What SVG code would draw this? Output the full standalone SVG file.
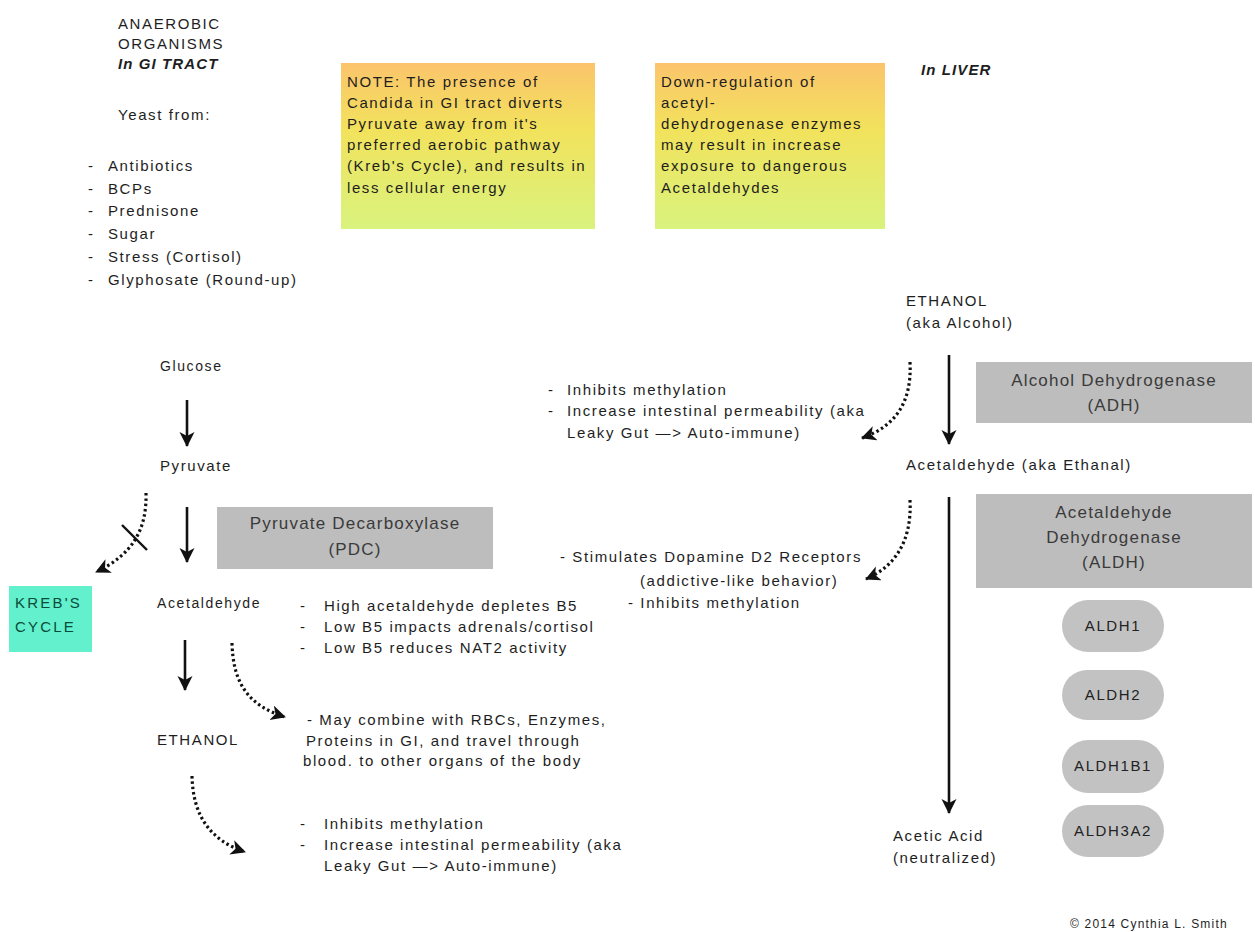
<svg xmlns="http://www.w3.org/2000/svg" width="1255" height="932" viewBox="0 0 1255 932">
<defs>
<style>
text{font-family:"Liberation Sans",Arial,Helvetica,sans-serif;font-size:15px;fill:#1e1e1e;letter-spacing:1.6px}
.sm{font-size:14px}
.bi{font-weight:bold;font-style:italic;letter-spacing:1.1px}
.enz{font-size:17px;fill:#3a3a3a;text-anchor:middle;letter-spacing:1.2px}
.pill{text-anchor:middle;font-size:15px;fill:#222}
.kreb{fill:#0b4b3a;font-size:15px;letter-spacing:2.2px}
.copy{font-size:12px;letter-spacing:1.2px}
.solid{stroke:#111;stroke-width:2.6;fill:none}
.dot{stroke:#111;stroke-width:3.2;stroke-dasharray:2.5 2.8;fill:none}
.box{fill:#bdbdbd}
.pbox{fill:#c2c2c2}
</style>
<linearGradient id="noteGrad" x1="0" y1="0" x2="0" y2="1">
<stop offset="0" stop-color="#fbc46c"/>
<stop offset="0.4" stop-color="#f2e25c"/>
<stop offset="1" stop-color="#d9f37e"/>
</linearGradient>
<marker id="ah" markerUnits="userSpaceOnUse" markerWidth="18" markerHeight="16" refX="14" refY="7.5" orient="auto">
<path d="M0,0 L15,7.5 L0,15 L4,7.5 z" fill="#111"/>
</marker>
</defs>

<g id="intro">
<text x="118" y="29">ANAEROBIC</text>
<text x="118" y="49">ORGANISMS</text>
<text x="118" y="69" class="bi">In GI TRACT</text>
<text x="118" y="120">Yeast from:</text>
<text x="88" y="171">-</text><text x="108" y="171">Antibiotics</text>
<text x="88" y="194">-</text><text x="108" y="194">BCPs</text>
<text x="88" y="216">-</text><text x="108" y="216">Prednisone</text>
<text x="88" y="239">-</text><text x="108" y="239">Sugar</text>
<text x="88" y="262">-</text><text x="108" y="262">Stress (Cortisol)</text>
<text x="88" y="285">-</text><text x="108" y="285">Glyphosate (Round-up)</text>
</g>

<g id="note1">
<rect x="341" y="63" width="254" height="166" fill="url(#noteGrad)"/>
<text x="347" y="87">NOTE: The presence of</text>
<text x="347" y="108">Candida in GI tract diverts</text>
<text x="347" y="129">Pyruvate away from it's</text>
<text x="347" y="150">preferred aerobic pathway</text>
<text x="347" y="171">(Kreb's Cycle), and results in</text>
<text x="347" y="193">less cellular energy</text>
</g>

<g id="note2">
<rect x="655" y="63" width="230" height="166" fill="url(#noteGrad)"/>
<text x="661" y="87">Down-regulation of</text>
<text x="661" y="108">acetyl-</text>
<text x="661" y="129">dehydrogenase enzymes</text>
<text x="661" y="150">may result in increase</text>
<text x="661" y="171">exposure to dangerous</text>
<text x="661" y="193">Acetaldehydes</text>
</g>

<g id="liver-label">
<text x="921" y="75" class="bi">In LIVER</text>
</g>

<g id="glucose"><text x="160" y="371" class="sm">Glucose</text></g>
<g id="pyruvate"><text x="160" y="471">Pyruvate</text></g>
<g id="pdc">
<rect x="217" y="507" width="276" height="62" class="box"/>
<text x="355" y="529" class="enz">Pyruvate Decarboxylase</text>
<text x="355" y="555" class="enz">(PDC)</text>
</g>
<g id="krebs">
<rect x="9" y="586" width="83" height="66" fill="#62f0cd"/>
<text x="15" y="608" class="kreb">KREB'S</text>
<text x="15" y="632" class="kreb">CYCLE</text>
</g>
<g id="acetaldehyde-gi"><text x="157" y="608" class="sm">Acetaldehyde</text></g>
<g id="ethanol-gi"><text x="157" y="745">ETHANOL</text></g>

<g id="b5-effects">
<text x="300" y="611">-</text><text x="324" y="611">High acetaldehyde depletes B5</text>
<text x="300" y="632">-</text><text x="324" y="632">Low B5 impacts adrenals/cortisol</text>
<text x="300" y="653">-</text><text x="324" y="653">Low B5 reduces NAT2 activity</text>
</g>
<g id="combine-effects">
<text x="307" y="725">- May combine with RBCs, Enzymes,</text>
<text x="306" y="746">Proteins in GI, and travel through</text>
<text x="303" y="766">blood. to other organs of the body</text>
</g>
<g id="ethanol-gi-effects">
<text x="300" y="829">-</text><text x="324" y="829">Inhibits methylation</text>
<text x="300" y="850">-</text><text x="324" y="850">Increase intestinal permeability (aka</text>
<text x="324" y="871">Leaky Gut —&gt; Auto-immune)</text>
</g>

<g id="ethanol-liver">
<text x="906" y="306">ETHANOL</text>
<text x="906" y="328">(aka Alcohol)</text>
</g>
<g id="adh">
<rect x="976" y="362" width="276" height="61" class="box"/>
<text x="1114" y="386" class="enz">Alcohol Dehydrogenase</text>
<text x="1114" y="411" class="enz">(ADH)</text>
</g>
<g id="ethanol-liver-effects">
<text x="548" y="395">-</text><text x="567" y="395">Inhibits methylation</text>
<text x="548" y="416">-</text><text x="567" y="416">Increase intestinal permeability (aka</text>
<text x="567" y="438">Leaky Gut —&gt; Auto-immune)</text>
</g>
<g id="acetaldehyde-liver"><text x="906" y="470">Acetaldehyde (aka Ethanal)</text></g>
<g id="aldh">
<rect x="976" y="494" width="276" height="94" class="box"/>
<text x="1114" y="518" class="enz">Acetaldehyde</text>
<text x="1114" y="543" class="enz">Dehydrogenase</text>
<text x="1114" y="568" class="enz">(ALDH)</text>
</g>
<g id="acetaldehyde-liver-effects">
<text x="560" y="562">- Stimulates Dopamine D2 Receptors</text>
<text x="640" y="586">(addictive-like behavior)</text>
<text x="628" y="608">- Inhibits methylation</text>
</g>
<g id="aldh1"><rect x="1062" y="600" width="102" height="52" rx="26" class="pbox"/><text x="1113" y="631" class="pill">ALDH1</text></g>
<g id="aldh2"><rect x="1062" y="670" width="102" height="50" rx="25" class="pbox"/><text x="1113" y="700" class="pill">ALDH2</text></g>
<g id="aldh1b1"><rect x="1062" y="740" width="102" height="53" rx="26" class="pbox"/><text x="1113" y="771" class="pill">ALDH1B1</text></g>
<g id="aldh3a2"><rect x="1062" y="805" width="102" height="52" rx="26" class="pbox"/><text x="1113" y="836" class="pill">ALDH3A2</text></g>
<g id="acetic-acid">
<text x="893" y="841">Acetic Acid</text>
<text x="893" y="863">(neutralized)</text>
</g>
<g id="copyright"><text x="1070" y="928" class="copy">© 2014 Cynthia L. Smith</text></g>

<g id="connectors">
<path d="M187,400 L187,446" class="solid" marker-end="url(#ah)"/>
<path d="M187,507 L187,562" class="solid" marker-end="url(#ah)"/>
<path d="M185,640 L185,690" class="solid" marker-end="url(#ah)"/>
<path d="M146,493 C147,530 132,555 96,572" class="dot" marker-end="url(#ah)"/>
<path d="M122,525 L147,550" stroke="#111" stroke-width="2.4"/>
<path d="M232,643 C233,685 250,706 285,717" class="dot" marker-end="url(#ah)"/>
<path d="M192,776 C193,816 210,840 245,852" class="dot" marker-end="url(#ah)"/>
<path d="M949,355 L949,444" class="solid" marker-end="url(#ah)"/>
<path d="M949,497 L949,813" class="solid" marker-end="url(#ah)"/>
<path d="M910,362 C912,402 896,426 862,438" class="dot" marker-end="url(#ah)"/>
<path d="M910,500 C912,540 896,566 866,579" class="dot" marker-end="url(#ah)"/>
</g>
</svg>
